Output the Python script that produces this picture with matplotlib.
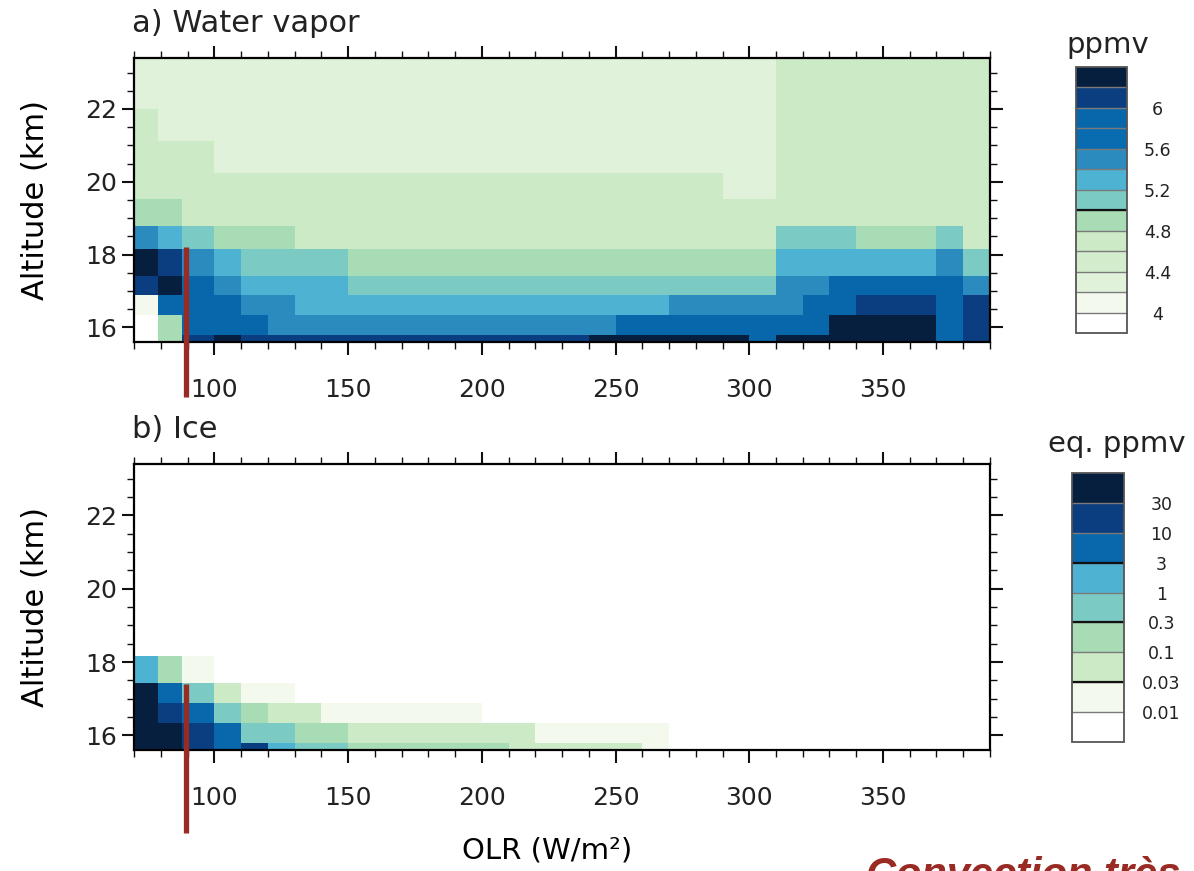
import numpy as np
import matplotlib
matplotlib.use('Agg')
import matplotlib.pyplot as plt
import matplotlib.transforms as mtransforms
from matplotlib.colors import ListedColormap, BoundaryNorm
from matplotlib.ticker import MultipleLocator

plt.rcParams['font.family'] = 'DejaVu Sans'
plt.rcParams['text.color'] = '#222222'
plt.rcParams['xtick.color'] = '#111111'
plt.rcParams['ytick.color'] = '#111111'
plt.rcParams['xtick.labelcolor'] = '#222222'
plt.rcParams['ytick.labelcolor'] = '#222222'

# OLR bins (W/m2) and altitude layers (km)
olr_edges = [70, 79, 88, 100, 110, 120, 130, 140, 150, 160, 170, 180, 190, 200, 210, 220,
             230, 240, 250, 260, 270, 280, 290, 300, 310, 320, 330, 340, 350, 360, 370, 380, 390]
alt_edges = [15.6, 15.78, 16.33, 16.88, 17.42, 18.16, 18.79, 19.53, 20.25, 21.12, 22.0, 23.4]

# water vapour (ppmv), one row per altitude layer, bottom to top
wv_rows = [
    [3.9, 4.9, 6.1, 6.3, 6.1, 6.1, 6.1, 6.1, 6.1, 6.1, 6.1, 6.1, 6.1, 6.1, 6.1, 6.1,
     6.1, 6.3, 6.3, 6.3, 6.3, 6.3, 6.3, 5.9, 6.3, 6.3, 6.3, 6.3, 6.3, 6.3, 5.9, 6.1],
    [3.9, 4.9, 5.9, 5.9, 5.9, 5.5, 5.5, 5.5, 5.5, 5.5, 5.5, 5.5, 5.5, 5.5, 5.5, 5.5,
     5.5, 5.5, 5.9, 5.9, 5.9, 5.9, 5.9, 5.9, 5.9, 5.9, 6.3, 6.3, 6.3, 6.3, 5.9, 6.1],
    [4.1, 5.9, 5.9, 5.9, 5.5, 5.5, 5.3, 5.3, 5.3, 5.3, 5.3, 5.3, 5.3, 5.3, 5.3, 5.3,
     5.3, 5.3, 5.3, 5.3, 5.5, 5.5, 5.5, 5.5, 5.5, 5.9, 5.9, 6.1, 6.1, 6.1, 5.9, 6.1],
    [6.1, 6.3, 5.9, 5.5, 5.3, 5.3, 5.3, 5.3, 5.1, 5.1, 5.1, 5.1, 5.1, 5.1, 5.1, 5.1,
     5.1, 5.1, 5.1, 5.1, 5.1, 5.1, 5.1, 5.1, 5.5, 5.5, 5.9, 5.9, 5.9, 5.9, 5.9, 5.5],
    [6.3, 6.1, 5.5, 5.3, 5.1, 5.1, 5.1, 5.1, 4.9, 4.9, 4.9, 4.9, 4.9, 4.9, 4.9, 4.9,
     4.9, 4.9, 4.9, 4.9, 4.9, 4.9, 4.9, 4.9, 5.3, 5.3, 5.3, 5.3, 5.3, 5.3, 5.5, 5.1],
    [5.5, 5.3, 5.1, 4.9, 4.9, 4.9, 4.7, 4.7, 4.7, 4.7, 4.7, 4.7, 4.7, 4.7, 4.7, 4.7,
     4.7, 4.7, 4.7, 4.7, 4.7, 4.7, 4.7, 4.7, 5.1, 5.1, 5.1, 4.9, 4.9, 4.9, 5.1, 4.7],
    [4.9, 4.9, 4.7, 4.7, 4.7, 4.7, 4.7, 4.7, 4.7, 4.7, 4.7, 4.7, 4.7, 4.7, 4.7, 4.7,
     4.7, 4.7, 4.7, 4.7, 4.7, 4.7, 4.7, 4.7, 4.7, 4.7, 4.7, 4.7, 4.7, 4.7, 4.7, 4.7],
    [4.7, 4.7, 4.7, 4.7, 4.7, 4.7, 4.7, 4.7, 4.7, 4.7, 4.7, 4.7, 4.7, 4.7, 4.7, 4.7,
     4.7, 4.7, 4.7, 4.7, 4.7, 4.7, 4.3, 4.3, 4.7, 4.7, 4.7, 4.7, 4.7, 4.7, 4.7, 4.7],
    [4.7, 4.7, 4.7, 4.3, 4.3, 4.3, 4.3, 4.3, 4.3, 4.3, 4.3, 4.3, 4.3, 4.3, 4.3, 4.3,
     4.3, 4.3, 4.3, 4.3, 4.3, 4.3, 4.3, 4.3, 4.7, 4.7, 4.7, 4.7, 4.7, 4.7, 4.7, 4.7],
    [4.7, 4.3, 4.3, 4.3, 4.3, 4.3, 4.3, 4.3, 4.3, 4.3, 4.3, 4.3, 4.3, 4.3, 4.3, 4.3,
     4.3, 4.3, 4.3, 4.3, 4.3, 4.3, 4.3, 4.3, 4.7, 4.7, 4.7, 4.7, 4.7, 4.7, 4.7, 4.7],
    [4.3, 4.3, 4.3, 4.3, 4.3, 4.3, 4.3, 4.3, 4.3, 4.3, 4.3, 4.3, 4.3, 4.3, 4.3, 4.3,
     4.3, 4.3, 4.3, 4.3, 4.3, 4.3, 4.3, 4.3, 4.7, 4.7, 4.7, 4.7, 4.7, 4.7, 4.7, 4.7],
]

# ice (eq. ppmv), same layout
ice_rows = [
    [50, 50, 20, 5, 20, 2, 0.5, 0.5, 0.2, 0.2, 0.2, 0.2, 0.2, 0.2, 0.05, 0.05,
     0.05, 0.05, 0.05, 0.02, 0, 0, 0, 0, 0, 0, 0, 0, 0, 0, 0, 0],
    [50, 50, 20, 5, 0.5, 0.5, 0.2, 0.2, 0.05, 0.05, 0.05, 0.05, 0.05, 0.05, 0.05, 0.02,
     0.02, 0.02, 0.02, 0.02, 0, 0, 0, 0, 0, 0, 0, 0, 0, 0, 0, 0],
    [50, 20, 5, 0.5, 0.2, 0.05, 0.05, 0.02, 0.02, 0.02, 0.02, 0.02, 0.02, 0, 0, 0,
     0, 0, 0, 0, 0, 0, 0, 0, 0, 0, 0, 0, 0, 0, 0, 0],
    [50, 5, 0.5, 0.05, 0.02, 0.02, 0, 0, 0, 0, 0, 0, 0, 0, 0, 0,
     0, 0, 0, 0, 0, 0, 0, 0, 0, 0, 0, 0, 0, 0, 0, 0],
    [2, 0.2, 0.02, 0, 0, 0, 0, 0, 0, 0, 0, 0, 0, 0, 0, 0,
     0, 0, 0, 0, 0, 0, 0, 0, 0, 0, 0, 0, 0, 0, 0, 0],
    [0] * 32, [0] * 32, [0] * 32, [0] * 32, [0] * 32, [0] * 32,
]

wv_levels = [3.8, 4.0, 4.2, 4.4, 4.6, 4.8, 5.0, 5.2, 5.4, 5.6, 5.8, 6.0, 6.2, 6.4]
wv_colors = ['#ffffff', '#f3faed', '#e0f2da', '#d3edcc', '#cceac5', '#a8dcb5', '#7bcbc4',
             '#4eb2d3', '#2b8bbe', '#0a6cb0', '#0867ab', '#0b3e80', '#071f3e']
wv_ticks = [4.0, 4.4, 4.8, 5.2, 5.6, 6.0]
wv_ticklabels = ['4', '4.4', '4.8', '5.2', '5.6', '6']

ice_levels = [0, 0.01, 0.03, 0.1, 0.3, 1, 3, 10, 30, 100]
ice_colors = ['#ffffff', '#f3faed', '#cceac5', '#a8dcb5', '#7bcbc4', '#4eb2d3',
              '#0868ab', '#0b3e80', '#071f3e']
ice_ticks = [0.01, 0.03, 0.1, 0.3, 1, 3, 10, 30]
ice_ticklabels = ['0.01', '0.03', '0.1', '0.3', '1', '3', '10', '30']

deep_conv_olr = 89.5
red = '#992b24'

W, H = 1194, 871
fig = plt.figure(figsize=(W / 100, H / 100), dpi=100)


def box(l, t, r, b):
    return [l / W, 1 - b / H, (r - l) / W, (b - t) / H]


ax_wv = fig.add_axes(box(134, 58, 990, 342))
ax_ice = fig.add_axes(box(134, 464, 990, 750))
cax_wv = fig.add_axes(box(1076, 67, 1127, 333))
cax_ice = fig.add_axes(box(1072, 473, 1124, 742))

panels = [
    (ax_wv, cax_wv, wv_rows, wv_levels, wv_colors, wv_ticks, wv_ticklabels, 'a) Water vapor',
     [5.0], 18.22, -0.194, 22),
    (ax_ice, cax_ice, ice_rows, ice_levels, ice_colors, ice_ticks, ice_ticklabels, 'b) Ice',
     [3, 0.3, 0.03], 17.39, -0.29, 27),
]

for (ax, cax, rows, levels, colors, ticks, ticklabels, title, dark_lines,
     line_top, line_bot, cpad) in panels:
    cmap = ListedColormap(colors)
    norm = BoundaryNorm(levels, cmap.N)
    mesh = ax.pcolormesh(olr_edges, alt_edges, np.array(rows, dtype=float), cmap=cmap, norm=norm)

    ax.set_xlim(70, 390)
    ax.set_ylim(15.6, 23.4)
    ax.xaxis.set_minor_locator(MultipleLocator(10))
    ax.yaxis.set_minor_locator(MultipleLocator(0.5))
    ax.set_yticks([16, 18, 20, 22])
    ax.set_xticks([100, 150, 200, 250, 300, 350])
    ax.tick_params(which='both', direction='out', top=True, right=True)
    ax.tick_params(which='major', length=9, width=1.5, labelsize=18)
    ax.tick_params(which='minor', length=5, width=1.0)
    ax.tick_params(axis='x', which='major', pad=17)
    ax.tick_params(axis='y', which='major', pad=3)
    for s in ax.spines.values():
        s.set_linewidth(1.6)
    ax.set_ylabel('Altitude (km)', fontsize=22)
    ax.yaxis.set_label_coords(-0.098, 0.5)
    ax.text(-0.002, 1.09, title, transform=ax.transAxes, fontsize=22, va='baseline', ha='left')

    trans = mtransforms.blended_transform_factory(ax.transData, ax.transAxes)
    y_top = (line_top - 15.6) / (23.4 - 15.6)
    ax.plot([deep_conv_olr, deep_conv_olr], [y_top, line_bot], color=red, lw=3.8,
            transform=trans, clip_on=False, solid_capstyle='butt', zorder=5)

    cbar = fig.colorbar(mesh, cax=cax, ticks=ticks, drawedges=True)
    cbar.ax.set_yticklabels(ticklabels)
    cbar.ax.minorticks_off()
    cbar.outline.set_edgecolor('#555555')
    cbar.outline.set_linewidth(1.3)
    cbar.dividers.set_color('#7a7a7a')
    cbar.dividers.set_linewidth(1.0)
    for v in dark_lines:
        cax.axhline(v, color='#111111', lw=1.6)
    cax.tick_params(which='both', length=0, labelsize=12.5, pad=cpad)
    for t in cax.get_yticklabels():
        t.set_ha('center')

ax_ice.set_xlabel('OLR (W/m²)', fontsize=21)
ax_ice.xaxis.set_label_coords(0.483, -0.303)
ax_ice.xaxis.label.set_va('top')

fig.text(1108 / W, 1 - 53 / H, 'ppmv', fontsize=21, ha='center', va='baseline')
fig.text(1117 / W, 1 - 452 / H, 'eq. ppmv', fontsize=21, ha='center', va='baseline')

# caption of the slide, cut by the lower edge as in the source
fig.text(866 / W, 1 - 856 / H, 'Convection très profonde', fontsize=30, color=red,
         fontweight='bold', fontstyle='italic', ha='left', va='top', family='Liberation Sans')

fig.savefig('out.png', dpi=100)
